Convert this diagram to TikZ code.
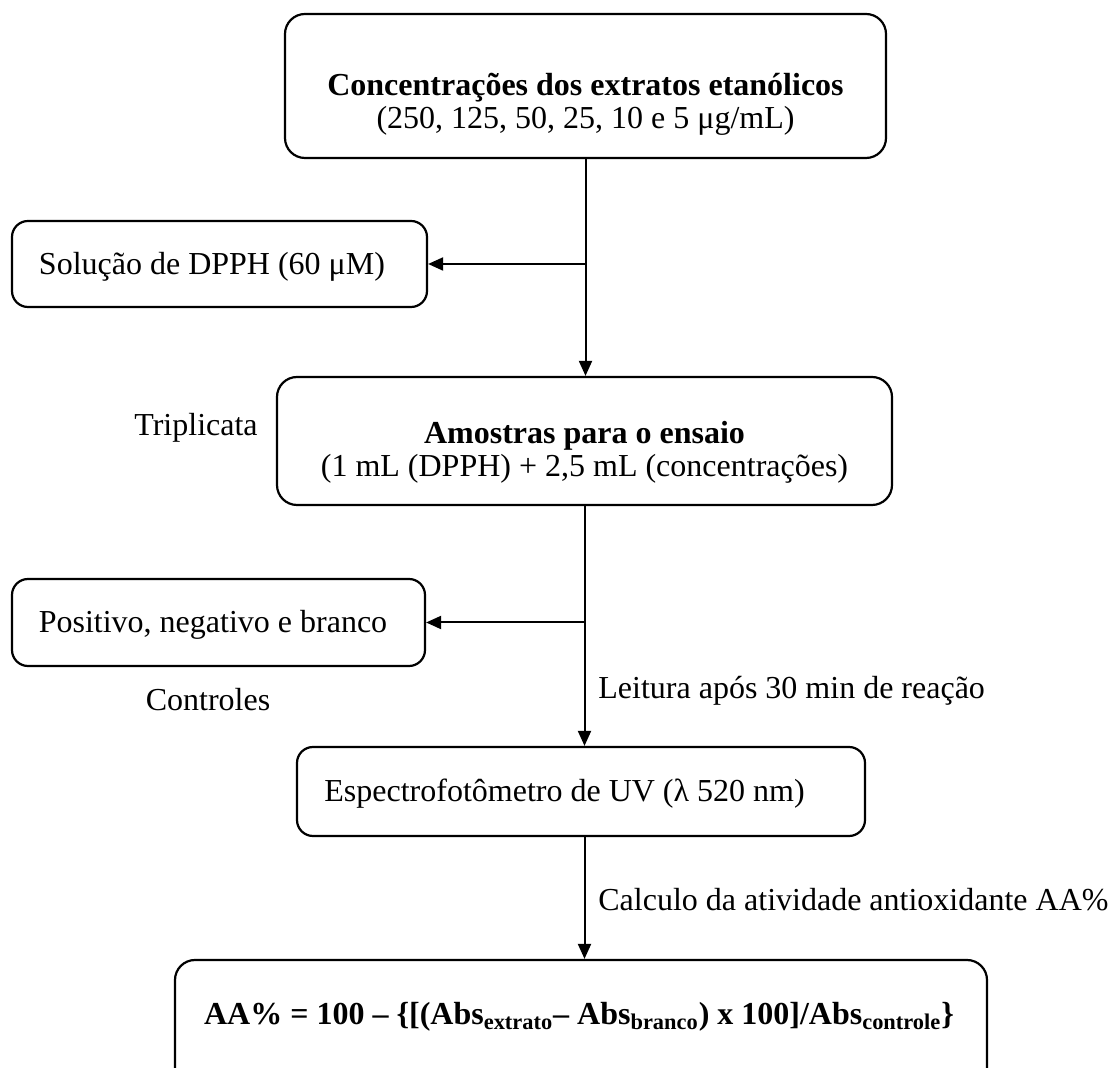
\documentclass[tikz,border=0pt]{standalone}
\usepackage{fontspec}
\setmainfont{Liberation Serif}
\usetikzlibrary{arrows.meta}
\begin{document}
\begin{tikzpicture}[x=0.5pt,y=-0.5pt,
  box/.style={draw, line width=1.1pt, rounded corners=8pt, inner sep=0pt},
  txt/.style={font=\fontsize{16}{16.5}\selectfont, align=center, inner sep=0pt},
  arr/.style={line width=1pt, -{Triangle[length=7.5pt,width=6.5pt]}}
]
\useasboundingbox (0,0) rectangle (1109,1068);
\clip (0,0) rectangle (1109,1068);

% boxes
\node[box, rounded corners=10pt, minimum width=300.5pt, minimum height=72pt] (top) at (585.5,86) {};
\node[txt] (toptxt) at (585.5,104) {\textbf{Concentrações dos extratos etanólicos}\\(250, 125, 50, 25, 10 e 5 μg/mL)};

\node[box, minimum width=207.5pt, minimum height=43pt] (dpph) at (219.5,264) {};
\node[txt] (dpphtxt) at (212,267) {Solução de DPPH (60 μM)};

\node[box, rounded corners=10pt, minimum width=307.5pt, minimum height=64pt] (amos) at (584.5,441) {};
\node[txt] (amostxt) at (584.5,452) {\textbf{Amostras para o ensaio}\\(1 mL (DPPH) + 2,5 mL (concentrações)};
\node[txt] (trip) at (196,428) {Triplicata};

\node[box, minimum width=206.5pt, minimum height=43.5pt] (ctrl) at (218.5,622.5) {};
\node[txt] (ctrltxt) at (213,625) {Positivo, negativo e branco};
\node[txt] (controles) at (208,700) {Controles};

\node[box, minimum width=284pt, minimum height=44.5pt] (uv) at (581,791.5) {};
\node[txt, anchor=west] (uvtxt) at (324,794) {Espectrofotômetro de UV (λ 520 nm)};

\node[box, rounded corners=10pt, minimum width=406pt, minimum height=80pt] (aa) at (581,1040) {};
\node[txt] (aatxt) at (579,1017) {\textbf{AA\% = 100 – \{[(Abs\textsubscript{extrato}– Abs\textsubscript{branco}) x 100]/Abs\textsubscript{controle}\}}};

% labels
\node[txt, anchor=west] (leit) at (598,691) {Leitura após 30 min de reação};
\node[txt, anchor=west] (calc) at (598,900) {Calculo da atividade antioxidante AA\%};

% connectors
\coordinate (j1) at (top.south |- dpph.east);
\coordinate (j2) at (amos.south |- ctrl.east);
\draw[arr] (top.south) -- (top.south |- amos.north);
\draw[arr] (j1) -- (dpph.east);
\draw[arr] (amos.south) -- (amos.south |- uv.north);
\draw[arr] (j2) -- (ctrl.east);
\draw[arr] (amos.south |- uv.south) -- (amos.south |- aa.north);
\end{tikzpicture}
\end{document}
